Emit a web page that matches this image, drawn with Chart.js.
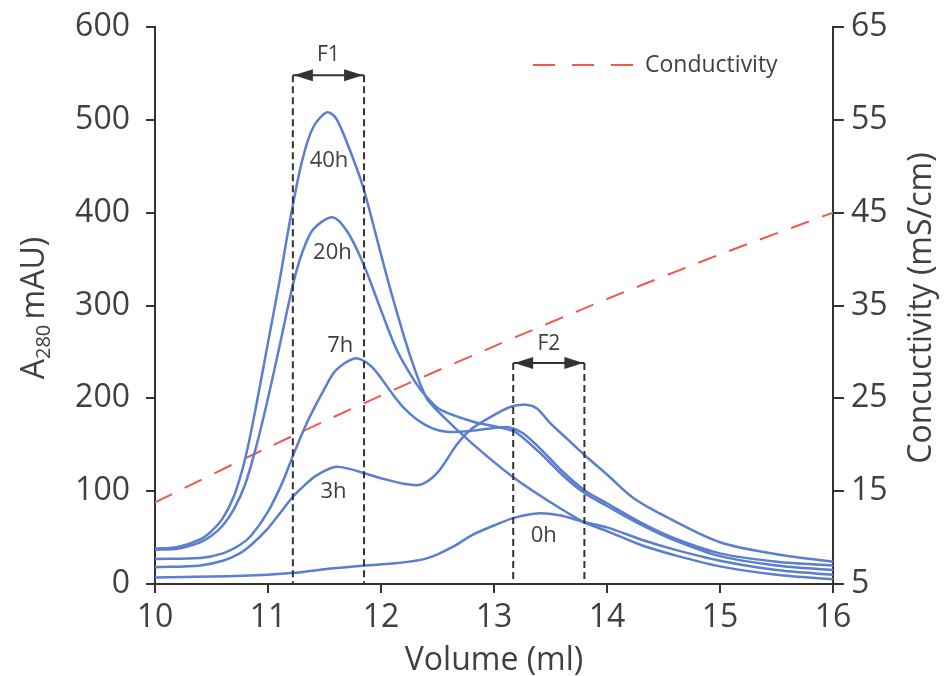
<!DOCTYPE html>
<html><head><meta charset="utf-8">
<script src="https://cdn.jsdelivr.net/npm/chart.js@4.4.1/dist/chart.umd.min.js"></script>
<style>html,body{margin:0;padding:0;background:#fff;}</style>
</head><body>
<canvas id="c" width="946" height="676"></canvas>
<script>
// ---- data ----
const vol40 = [10,10.2,10.4,10.5,10.6,10.7,10.8,10.9,11.0,11.1,11.2,11.3,11.4,11.52,11.6,11.7,11.84,12.0,12.1,12.26,12.4,12.52,12.8,13.17,13.5,13.79,14.0,14.3,14.6,15.0,15.5,16];
const a40   = [38,40,48,57,71,95,136,195,260,325,395,455,492,508,502,475,428,355,310,245,201,184,152,115,88,67,57,42,31,19,10,5];
const vol20 = [10,10.2,10.4,10.5,10.6,10.7,10.8,10.9,11.0,11.1,11.22,11.3,11.4,11.57,11.7,11.84,12.0,12.14,12.3,12.4,12.52,12.81,13.11,13.2,13.4,13.6,13.8,14.0,14.3,14.6,15.0,15.5,16];
const a20   = [37,38,45,52,63,81,108,150,200,255,322,356,382,395,380,346,295,252,218,202,188,175,167,163,142,118,98,84,64,47,30,20,15];
const vol7  = [10,10.4,10.6,10.75,10.85,11.0,11.13,11.22,11.35,11.49,11.6,11.77,11.9,12.0,12.1,12.2,12.32,12.45,12.58,12.8,13.0,13.13,13.25,13.4,13.6,13.8,14.0,14.3,14.6,15.0,15.5,16];
const a7    = [27,28,33,42,52,78,110,138,175,208,230,243,236,222,205,190,177,168,164,165,168,169,163,147,122,101,87,66,49,33,24,20];
const vol3  = [10,10.4,10.6,10.75,10.85,11.0,11.13,11.22,11.32,11.43,11.59,11.72,11.86,12.0,12.2,12.35,12.5,12.67,12.8,13.0,13.15,13.28,13.38,13.5,13.65,13.8,14.0,14.23,14.53,15.0,15.5,16];
const a3    = [18,20,25,33,42,60,80,94,106,117,126,124,119,114,108,107,120,150,167,182,191,193,189,173,156,139,118,93,72,45,32,24];
const vol0  = [10,10.5,11.0,11.23,11.5,11.86,12.1,12.35,12.5,12.65,12.81,13.0,13.17,13.38,13.58,13.79,14.0,14.3,14.6,15.0,15.5,16];
const a0    = [7,8,10,12,16,20,22,26,32,41,53,63,71,76,74,67,61,48,37,25,15,10];
const condVol = [10,11,12,13,14,15,16];
const cond    = [13.8,19.7,25.3,30.6,35.7,40.5,45];

const xTicks = [10,11,12,13,14,15,16];
const leftTicks = [0,100,200,300,400,500,600];
const rightTicks = [5,15,25,35,45,55,65];

const fractions = [
  {name:'F1', from:11.22, to:11.85, top:548, labelY:570},
  {name:'F2', from:13.17, to:13.80, top:238, labelY:259}
];
const curveLabels = [
  {text:'40h', x:11.54, y:456},
  {text:'20h', x:11.57, y:357},
  {text:'7h',  x:11.64, y:257},
  {text:'3h',  x:11.58, y:99},
  {text:'0h',  x:13.44, y:52}
];

const FONT = "'Open Sans', 'DejaVu Sans', sans-serif";
const BLUE = '#5b7fce';
const RED = '#f0584f';
const INK = '#404040';

function pts(xs, ys){ return xs.map((x,i)=>({x:x, y:ys[i]})); }
function curve(label, xs, ys){
  return {label, data: pts(xs, ys), borderColor: BLUE, borderWidth: 2.5, pointRadius: 0,
          fill:false, tension:0.3, yAxisID:'y'};
}

const annot = {
  id:'annot',
  afterDatasetsDraw(chart){
    const ctx = chart.ctx, xs = chart.scales.x, ys = chart.scales.y, ca = chart.chartArea;
    ctx.save();
    fractions.forEach(f=>{
      const x1 = xs.getPixelForValue(f.from), x2 = xs.getPixelForValue(f.to), yt = ys.getPixelForValue(f.top);
      ctx.strokeStyle = '#333'; ctx.lineWidth = 2; ctx.setLineDash([7,4]);
      ctx.beginPath(); ctx.moveTo(x1, yt); ctx.lineTo(x1, ca.bottom); ctx.moveTo(x2, yt); ctx.lineTo(x2, ca.bottom); ctx.stroke();
      ctx.setLineDash([]);
      ctx.beginPath(); ctx.moveTo(x1, yt); ctx.lineTo(x2, yt); ctx.stroke();
      ctx.fillStyle = '#333';
      ctx.beginPath(); ctx.moveTo(x1+1, yt); ctx.lineTo(x1+20, yt-6); ctx.lineTo(x1+20, yt+6); ctx.closePath(); ctx.fill();
      ctx.beginPath(); ctx.moveTo(x2-1, yt); ctx.lineTo(x2-20, yt-6); ctx.lineTo(x2-20, yt+6); ctx.closePath(); ctx.fill();
      ctx.font = "21px " + FONT; ctx.textAlign = 'center'; ctx.textBaseline = 'middle'; ctx.fillStyle = INK;
      ctx.fillText(f.name, (x1+x2)/2, ys.getPixelForValue(f.labelY));
    });
    ctx.font = "22px " + FONT; ctx.textAlign = 'center'; ctx.textBaseline = 'middle'; ctx.fillStyle = INK;
    curveLabels.forEach(l=>{ ctx.fillText(l.text, xs.getPixelForValue(l.x), ys.getPixelForValue(l.y)); });
    const lx = ca.left + 378, ly = 65;
    ctx.strokeStyle = RED; ctx.lineWidth = 2; ctx.setLineDash([22,17]);
    ctx.beginPath(); ctx.moveTo(lx, ly); ctx.lineTo(lx+100, ly); ctx.stroke();
    ctx.setLineDash([]);
    ctx.font = "23px " + FONT; ctx.textAlign = 'left'; ctx.fillStyle = INK;
    ctx.fillText(chart.data.datasets[5].label, lx+112, ly);
    ctx.restore();
  },
  afterDraw(chart){
    const ctx = chart.ctx, ca = chart.chartArea;
    ctx.save();
    ctx.fillStyle = INK; ctx.textBaseline = 'middle';
    ctx.font = "32px " + FONT; ctx.textAlign = 'center';
    ctx.fillText('Volume (ml)', (ca.left+ca.right)/2, 661);
    ctx.save();
    ctx.translate(33, 308); ctx.rotate(-Math.PI/2);
    ctx.textAlign = 'left'; ctx.textBaseline = 'alphabetic';
    const big = "32px " + FONT, small = "20px " + FONT;
    ctx.font = big; const wA = ctx.measureText('A').width;
    ctx.font = small; const wS = ctx.measureText('280').width;
    ctx.font = big; const wR = ctx.measureText('\u2009mAU)').width;
    let x0 = -(wA+wS+wR)/2, base = 11;
    ctx.font = big; ctx.fillText('A', x0, base);
    ctx.font = small; ctx.fillText('280', x0+wA, base+6);
    ctx.font = big; ctx.fillText('\u2009mAU)', x0+wA+wS, base);
    ctx.restore();
    ctx.save();
    ctx.translate(922, 308); ctx.rotate(-Math.PI/2);
    ctx.font = big; ctx.textAlign = 'center'; ctx.textBaseline = 'middle';
    ctx.fillText('Concuctivity (mS/cm)', 0, 0);
    ctx.restore();
    ctx.restore();
  }
};

const axisCommon = {
  grid:{drawOnChartArea:false, color:'#333', lineWidth:2, tickLength:9},
  border:{color:'#333', width:2}
};

new Chart(document.getElementById('c'), {
  type:'line',
  data:{ datasets:[
    curve('40h', vol40, a40),
    curve('20h', vol20, a20),
    curve('7h', vol7, a7),
    curve('3h', vol3, a3),
    curve('0h', vol0, a0),
    {label:'Conductivity', data: pts(condVol, cond), borderColor: RED, borderWidth: 2, borderDash:[19,14],
     pointRadius:0, fill:false, tension:0.3, yAxisID:'y1'}
  ]},
  options:{
    responsive:false, animation:false, devicePixelRatio:1,
    layout:{padding:{top:27, left:0, right:0, bottom:0}},
    plugins:{legend:{display:false}, tooltip:{enabled:false}},
    scales:{
      x:{type:'linear', min:10, max:16, ...axisCommon,
         afterBuildTicks:s=>{s.ticks = xTicks.map(v=>({value:v}));},
         ticks:{font:{family:FONT, size:32}, color:INK, padding:6, maxRotation:0, autoSkip:false},
         afterFit:s=>{s.height = 92; s.paddingLeft = 0; s.paddingRight = 0;}},
      y:{type:'linear', position:'left', min:0, max:600, ...axisCommon,
         afterBuildTicks:s=>{s.ticks = leftTicks.map(v=>({value:v}));},
         ticks:{font:{family:FONT, size:32}, color:INK, padding:16},
         afterFit:s=>{s.width = 155; s.paddingTop = 0; s.paddingBottom = 0;}},
      y1:{type:'linear', position:'right', min:5, max:65,
         grid:{drawOnChartArea:false, color:'#333', lineWidth:2, tickLength:11},
         border:{color:'#333', width:2},
         afterBuildTicks:s=>{s.ticks = rightTicks.map(v=>({value:v}));},
         ticks:{font:{family:FONT, size:32}, color:INK, padding:7},
         afterFit:s=>{s.width = 113; s.paddingTop = 0; s.paddingBottom = 0;}}
    }
  },
  plugins:[annot]
});
</script>
</body></html>
